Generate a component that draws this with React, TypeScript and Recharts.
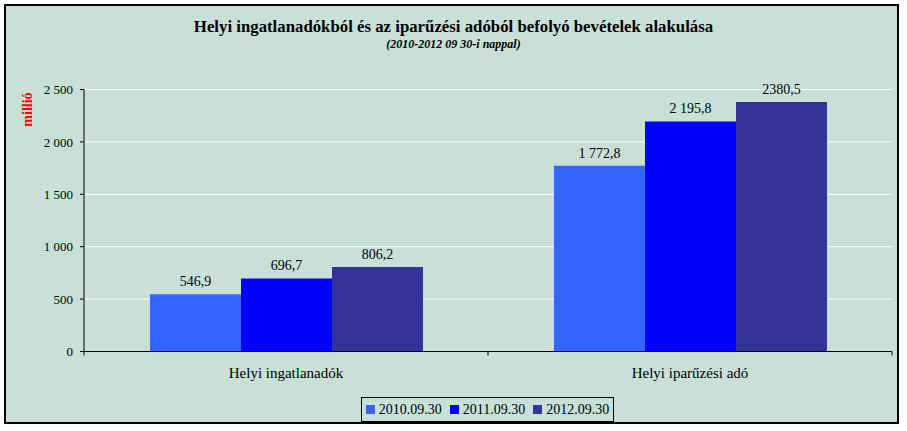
import {BarChart, Bar, XAxis, YAxis, CartesianGrid, Legend, LabelList} from 'recharts';

const categories = ['Helyi ingatlanadók', 'Helyi iparűzési adó'];
const values2010 = [546.9, 1772.8];
const values2011 = [696.7, 2195.8];
const values2012 = [806.2, 2380.5];
const labels2010 = ['546,9', '1 772,8'];
const labels2011 = ['696,7', '2 195,8'];
const labels2012 = ['806,2', '2380,5'];
const yTicks = [0, 500, 1000, 1500, 2000, 2500];

const series = [
  {key: 'v2010', label: 'l2010', name: '2010.09.30', color: '#3366FF'},
  {key: 'v2011', label: 'l2011', name: '2011.09.30', color: '#0000FF'},
  {key: 'v2012', label: 'l2012', name: '2012.09.30', color: '#333399'},
];

const data = categories.map((name, i) => ({
  name,
  v2010: values2010[i],
  v2011: values2011[i],
  v2012: values2012[i],
  l2010: labels2010[i],
  l2011: labels2011[i],
  l2012: labels2012[i],
}));

const FONT = '"Liberation Serif", serif';
const BG = '#C8E0D8';

function formatThousands(v: number) {
  return String(v).replace(/\B(?=(\d{3})+(?!\d))/g, ' ');
}

function CategoryTick(props: any) {
  const {x, y, payload, index} = props;
  const half = payload.offset ?? 0;
  return (
    <g>
      {index === 0 && <line x1={x - half} x2={x - half} y1={y} y2={y + 4} stroke="#000" />}
      <line x1={x + half} x2={x + half} y1={y} y2={y + 4} stroke="#000" />
      <text x={x} y={y + 26} textAnchor="middle" fontSize={15} fontFamily={FONT} fill="#000">
        {payload.value}
      </text>
    </g>
  );
}

function UnitLabel(props: any) {
  const {viewBox} = props;
  const x = viewBox.x + 27;
  const y = viewBox.y + 20;
  return (
    <text
      x={x}
      y={y}
      transform={`rotate(-90, ${x}, ${y})`}
      textAnchor="middle"
      dominantBaseline="central"
      fontSize={14}
      fontWeight="bold"
      fontFamily={FONT}
      fill="#FF0000"
    >
      millió
    </text>
  );
}

function LegendBox() {
  return (
    <div
      style={{
        boxSizing: 'border-box',
        width: 253,
        height: 25,
        border: '1px solid #000',
        display: 'flex',
        alignItems: 'center',
        justifyContent: 'center',
        gap: 8,
        fontFamily: FONT,
        fontSize: 14,
      }}
    >
      {series.map((s) => (
        <span key={s.key} style={{display: 'flex', alignItems: 'center', gap: 4}}>
          <span style={{display: 'inline-block', width: 9, height: 9, background: s.color}} />
          {s.name}
        </span>
      ))}
    </div>
  );
}

export default function App() {
  return (
    <div style={{position: 'absolute', left: 0, top: 0, width: 907, height: 431}}>
      <div
        style={{
          position: 'absolute',
          left: 4,
          top: 4,
          width: 895,
          height: 420,
          background: BG,
          border: '2px solid #000',
          boxSizing: 'border-box',
        }}
      />
      <div
        style={{
          position: 'absolute',
          left: 0,
          top: 17,
          width: 907,
          textAlign: 'center',
          fontFamily: FONT,
          fontWeight: 'bold',
          fontSize: 16.8,
        }}
      >
        Helyi ingatlanadókból és az iparűzési adóból befolyó bevételek alakulása
      </div>
      <div
        style={{
          position: 'absolute',
          left: 0,
          top: 37,
          width: 907,
          textAlign: 'center',
          fontFamily: FONT,
          fontStyle: 'italic',
          fontWeight: 'bold',
          fontSize: 12,
        }}
      >
        (2010-2012 09 30-i nappal)
      </div>
      <div style={{position: 'absolute', left: 0, top: 0}}>
        <BarChart
          width={907}
          height={431}
          data={data}
          margin={{top: 89.5, right: 15, bottom: 49.5, left: 0}}
          barCategoryGap={66}
          barGap={0}
        >
          <CartesianGrid stroke="#FFFFFF" vertical={false} />
          <XAxis
            dataKey="name"
            height={30}
            axisLine={{stroke: '#000'}}
            tickLine={false}
            tickSize={0}
            tickMargin={0}
            tick={<CategoryTick />}
            interval={0}
          />
          <XAxis
            xAxisId="top"
            dataKey="name"
            orientation="top"
            height={0}
            tick={false}
            tickLine={false}
            axisLine={{stroke: '#808080'}}
          />
          <YAxis
            width={84}
            domain={[0, 2500]}
            ticks={yTicks}
            tickFormatter={formatThousands}
            axisLine={{stroke: '#000'}}
            tickLine={{stroke: '#000'}}
            tickSize={4}
            tickMargin={7}
            tick={{fontSize: 13, fontFamily: FONT, fill: '#000'}}
            label={<UnitLabel />}
          />
          <YAxis
            yAxisId="right"
            orientation="right"
            width={0}
            tick={false}
            tickLine={false}
            axisLine={{stroke: '#808080'}}
          />
          <Legend
            verticalAlign="middle"
            layout="horizontal"
            content={<LegendBox />}
            wrapperStyle={{left: 361, top: 397, width: 253, height: 25}}
          />
          {series.map((s) => (
            <Bar key={s.key} dataKey={s.key} name={s.name} fill={s.color} isAnimationActive={false}>
              <LabelList
                dataKey={s.label}
                position="top"
                offset={8}
                fontSize={14}
                fontFamily={FONT}
                fill="#000"
              />
            </Bar>
          ))}
        </BarChart>
      </div>
    </div>
  );
}
